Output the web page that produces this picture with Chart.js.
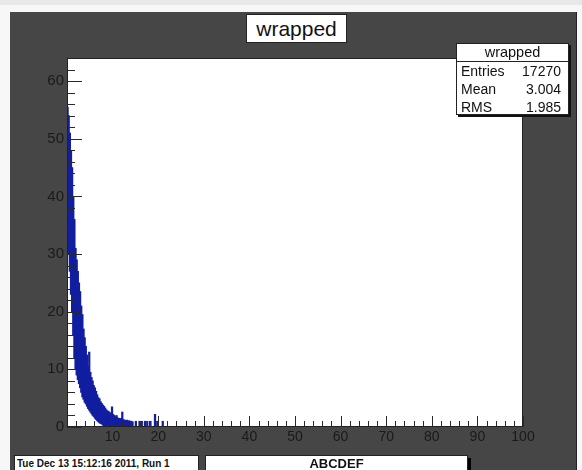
<!DOCTYPE html>
<html>
<head>
<meta charset="utf-8">
<script src="https://cdn.jsdelivr.net/npm/chart.js@4.4.1/dist/chart.umd.min.js"></script>
<style>
  body { margin:0; width:582px; height:470px; overflow:hidden; background:#f7f7f7; position:relative;
         font-family:"Liberation Sans", Arial, sans-serif; }
  #topstrip { position:absolute; left:0; top:0; width:582px; height:5px; background:#e8e8e8; }
  #pad { position:absolute; left:10px; top:12px; width:566px; height:460px; background:#464646;
         border-right:1px solid #222; }
  #wrap { position:absolute; left:0; top:0; width:582px; height:470px; }
  .box { position:absolute; background:#fff; border:1px solid #222; color:#111; box-sizing:border-box; }
  #title { left:246px; top:14px; width:101px; height:29px; font-size:21px; line-height:27px; text-align:center; }
  #stats { left:456px; top:43px; width:113px; height:72px; font-size:14px; box-shadow:2px 2px 0 #111; }
  #stats .head { height:17px; line-height:16px; text-align:center; font-size:14.5px; border-bottom:1px solid #222; }
  #stats .row { display:flex; justify-content:space-between; padding:0 7px 0 4px; height:18px; line-height:18px; }
  #date { left:14px; top:455px; width:185px; height:18px; font-size:10px; font-weight:bold; line-height:16px;
          padding-left:2px; white-space:nowrap; }
  #label { left:205px; top:455px; width:263px; height:18px; font-size:13px; font-weight:bold; line-height:16px;
           text-align:center; box-shadow:3px 3px 0 #000; }
</style>
</head>
<body>
<div id="topstrip"></div>
<div id="pad"></div>
<div id="wrap"><canvas id="histo" width="582" height="470"></canvas></div>
<div class="box" id="title">wrapped</div>
<div class="box" id="stats">
  <div class="head">wrapped</div>
  <div class="row"><span>Entries</span><span>17270</span></div>
  <div class="row"><span>Mean</span><span>3.004</span></div>
  <div class="row"><span>RMS</span><span>1.985</span></div>
</div>
<div class="box" id="date">Tue Dec 13 15:12:16 2011, Run 1</div>
<div class="box" id="label">ABCDEF</div>
<script>
// bin centres and the lowest / highest content seen in each column
let binX = [0.125,0.375,0.625,0.875,1.125,1.375,1.625,1.875,2.125,2.375,2.625,2.875,
            3.125,3.375,3.625,3.875,4.125,4.375,4.625,4.875,5.125,5.375,5.625,5.875,
            6.125,6.375,6.625,6.875,7.125,7.375,7.625,7.875,8.125,8.375,8.625,8.875,
            9.125,9.375,9.625,9.875,10.125,10.375,10.625,10.875,11.125,11.375,11.625,11.875,
            12.125,12.375,12.625,12.875,13.125,13.375,13.625,13.875,14.125,14.375,
            15.1,15.9,16.4,17.1,17.6,18.3,19.3,19.8,21.0];
let binHigh = [55.5,54,51,48,45,40,36,31,29,27,25,23.5,
               21,19.5,17,15.5,14,12.5,10.5,13,9.5,8.6,8,7.2,
               6.8,6.2,5.6,5.1,4.9,4.4,4.1,3.8,3.6,3.3,3.0,2.8,
               2.7,2.5,2.4,3.5,2.2,2.0,1.8,2.0,1.6,1.5,1.4,1.5,
               2.6,1.3,1.2,1.1,1.2,1.0,1.1,1.0,1.0,0.9,
               1,1,1,1,1,1,2.2,1,1];
let binLow = [34,30,27,23,20,16,12,10,9,8.2,7.5,6.8,
              6,5.2,4.8,4.3,4,3.6,3.2,2.9,2.6,2.3,2,1.8,
              1.5,1.3,1.1,0.9,0.7,0.6,0.5,0.3,0.2,0,0,0,
              0,0,0,0,0,0,0,0,0,0,0,0,
              0,0,0,0,0,0,0,0,0,0,
              0,0,0,0,0,0,0,0,0];
let xMax = 100;
let yMax = 64;

let points = [];
for (let i = 0; i < binX.length; i++) {
    points.push({x: binX[i], y: [binLow[i], binHigh[i]]});
}

// white frame behind the histogram, inward ticks on top of it
const frame = {
    id: 'frame',
    beforeDatasetsDraw(chart) {
        const a = chart.chartArea, ctx = chart.ctx;
        ctx.save();
        ctx.fillStyle = '#fff';
        ctx.fillRect(a.left, a.top, a.right - a.left, a.bottom - a.top);
        ctx.restore();
    },
    afterDatasetsDraw(chart) {
        const a = chart.chartArea, ctx = chart.ctx;
        const xs = chart.scales.x, ys = chart.scales.y;
        ctx.save();
        ctx.strokeStyle = '#2a2a2a';
        ctx.lineWidth = 1;
        ctx.beginPath();
        for (let v = 0; v <= yMax; v += 2) {
            const y = Math.round(ys.getPixelForValue(v)) + 0.5;
            const len = v % 10 === 0 ? 15 : 8;
            ctx.moveTo(a.left, y);
            ctx.lineTo(a.left + len, y);
        }
        for (let v = 0; v <= xMax; v += 2) {
            const x = Math.round(xs.getPixelForValue(v)) + 0.5;
            const len = v % 10 === 0 ? 11 : 6;
            ctx.moveTo(x, a.bottom);
            ctx.lineTo(x, a.bottom - len);
        }
        ctx.stroke();
        ctx.strokeStyle = '#222';
        ctx.strokeRect(a.left + 0.5, a.top + 0.5, a.right - a.left - 1, a.bottom - a.top - 1);
        ctx.restore();
    }
};

new Chart(document.getElementById('histo'), {
    type: 'bar',
    data: {
        datasets: [{
            label: 'wrapped',
            data: points,
            backgroundColor: 'rgb(18,30,160)',
            borderWidth: 0,
            barThickness: 1.6
        }]
    },
    options: {
        responsive: false,
        animation: false,
        layout: { padding: { left: 0, top: 58, right: 59, bottom: 0 } },
        plugins: { legend: { display: false }, tooltip: { enabled: false } },
        scales: {
            x: {
                type: 'linear', min: 0, max: xMax, offset: false,
                grid: { display: false, drawTicks: false, offset: false },
                border: { display: false },
                ticks: {
                    stepSize: 10, padding: 2, color: '#1a1a1a', maxRotation: 0,
                    font: { family: 'Liberation Sans', size: 14 },
                    callback: v => v === 0 ? '' : v
                },
                afterFit(s) { s.height = 43; }
            },
            y: {
                min: 0, max: yMax,
                grid: { display: false, drawTicks: false },
                border: { display: false },
                ticks: {
                    stepSize: 10, padding: 3, includeBounds: false, color: '#1a1a1a',
                    font: { family: 'Liberation Sans', size: 15 }
                },
                afterFit(s) { s.width = 67; }
            }
        }
    },
    plugins: [frame]
});
</script>
</body>
</html>
